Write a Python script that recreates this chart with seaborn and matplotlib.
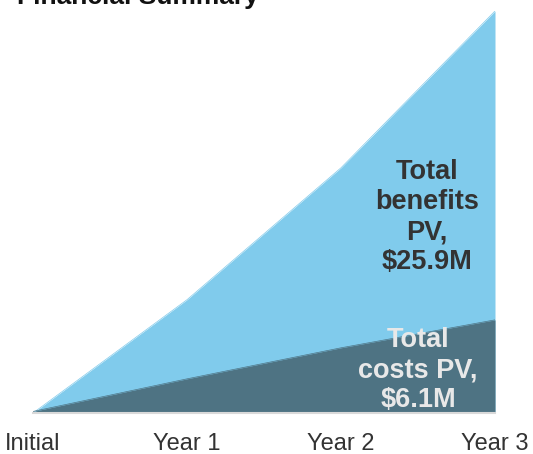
import numpy as np
import pandas as pd
import matplotlib
matplotlib.use("Agg")
import matplotlib.pyplot as plt
import seaborn as sns

periods = ["Initial", "Year 1", "Year 2", "Year 3"]
benefits = [0.0, 7.3, 15.8, 25.9]   # cumulative benefits, $M
costs = [0.1, 2.2, 4.2, 6.0]        # cumulative costs, $M

df = pd.DataFrame({"period": periods, "benefits": benefits, "costs": costs})
df["x"] = np.arange(len(df))

sns.set_theme(style="white")
plt.rcParams["font.family"] = ["Liberation Sans", "DejaVu Sans"]

fig = plt.figure(figsize=(5.33, 4.54), dpi=100)
ax = fig.add_axes([33 / 533, 41 / 454, 462 / 533, 402 / 454])

light_blue = "#80CBEC"
dark_slate = "#4E7383"

ax.fill_between(df["x"], 0, df["benefits"], color=light_blue, linewidth=0)
ax.fill_between(df["x"], 0, df["costs"], color=dark_slate, linewidth=0)
sns.lineplot(data=df, x="x", y="benefits", color=light_blue, linewidth=0.5, ax=ax)
sns.lineplot(data=df, x="x", y="costs", color=dark_slate, linewidth=0.5, ax=ax)

ax.set_xlim(0, 3)
ax.set_ylim(0, 25.9)
ax.set_xticks(df["x"])
ax.set_xticklabels(periods, fontsize=17, color="#333333")
ax.tick_params(axis="x", length=0, pad=14.5)
ax.set_yticks([])
ax.set_xlabel("")
ax.set_ylabel("")
for s in ["top", "left", "right"]:
    ax.spines[s].set_visible(False)
ax.spines["bottom"].set_color("#D9D9D9")
ax.spines["bottom"].set_linewidth(1.5)

ax.text(2.558, 12.6, "Total\nbenefits\nPV,\n$25.9M", ha="center", va="center",
        fontsize=19.5, fontweight="bold", color="#333333", linespacing=1.2)
ax.text(2.5, 2.75, "Total\ncosts PV,\n$6.1M", ha="center", va="center",
        fontsize=19.5, fontweight="bold", color="#E8E8E8", linespacing=1.2)

fig.text(17 / 533, 1 - 4 / 454, "Financial Summary", ha="left", va="baseline",
         fontsize=19, fontweight="bold", color="#111111")

fig.savefig("out.png", dpi=100)
